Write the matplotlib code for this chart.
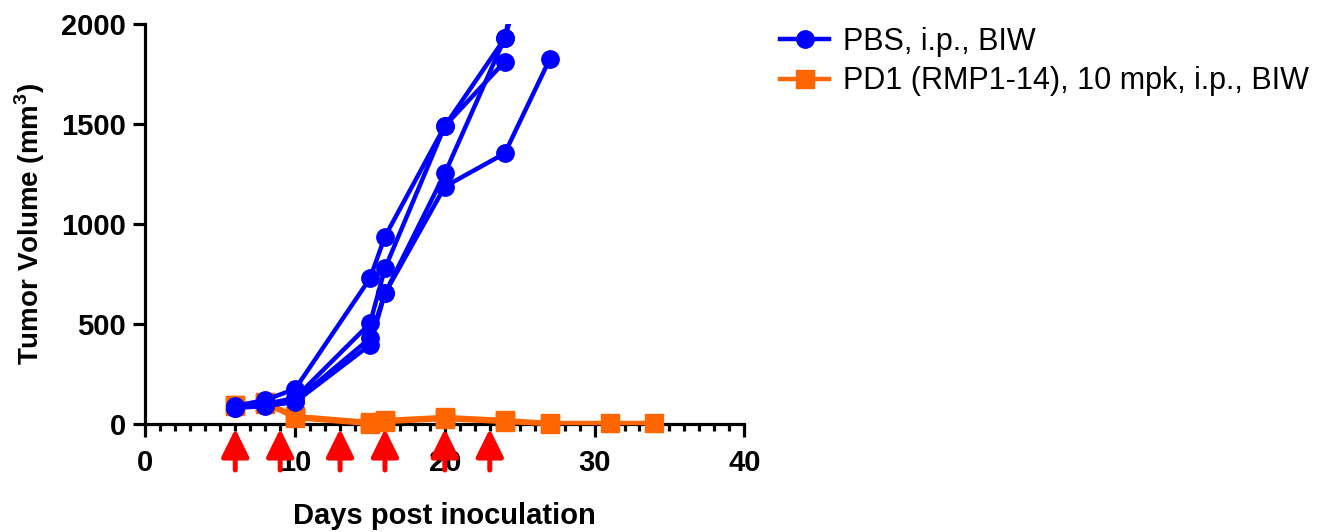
import numpy as np
import matplotlib
matplotlib.use("Agg")
import matplotlib.pyplot as plt
from matplotlib.ticker import MultipleLocator

plt.rcParams['font.family'] = ['Liberation Sans', 'DejaVu Sans']
plt.rcParams['mathtext.fontset'] = 'custom'
plt.rcParams['mathtext.rm'] = 'Liberation Sans'
plt.rcParams['mathtext.bf'] = 'Liberation Sans:bold'

# PBS group, one list per mouse (day, volume)
pbs_days = [
    [6, 8, 10, 15, 16, 20, 24],
    [6, 8, 10, 15, 16, 20, 24, 27],
    [6, 8, 10, 15, 16, 20, 24, 27],
    [6, 8, 10, 15, 16, 20, 24, 27],
]
pbs_vol = [
    [90, 120, 175, 728, 937, 1490, 1812],
    [80, 100, 130, 503, 778, 1490, 1928, 3000],
    [85, 95, 115, 428, 653, 1253, 1928, 2700],
    [80, 90, 110, 395, 653, 1187, 1353, 1823],
]

# anti-PD1 group
pd1_days = [
    [6, 8, 10, 15, 16, 20, 24, 27, 31, 34],
    [6, 8, 10, 15, 16, 20, 24, 27],
    [6, 8, 10, 15, 16, 20, 24],
]
pd1_vol = [
    [95, 110, 40, 10, 20, 35, 20, 5, 5, 5],
    [90, 105, 30, 0, 10, 25, 10, 0],
    [95, 100, 35, 5, 15, 30, 15],
]

dose_days = [6, 9, 13, 16, 20, 23]

blue = '#0000FF'
orange = '#FF6600'

fig = plt.figure(figsize=(13.22, 5.32), dpi=100)
ax = fig.add_axes([0.110, 0.203, 0.453, 0.752])

for d, v in zip(pd1_days, pd1_vol):
    ax.plot(d, v, color=orange, marker='s', ms=12.5, lw=3.2, clip_on=False, zorder=3)
for d, v in zip(pbs_days, pbs_vol):
    ax.plot(d, v, color=blue, marker='o', ms=12.5, lw=3.2, zorder=4)

# legend handles
h1, = ax.plot([], [], color=blue, marker='o', ms=12.5, lw=3.2, label='PBS, i.p., BIW')
h2, = ax.plot([], [], color=orange, marker='s', ms=12.5, lw=3.2,
              label='PD1 (RMP1-14), 10 mpk, i.p., BIW')
fig.legend(handles=[h1, h2], loc='upper left', bbox_to_anchor=(0.581, 0.972),
           frameon=False, fontsize=22, handlelength=1.6, handletextpad=0.45,
           labelspacing=0.3, borderaxespad=0)

ax.set_xlim(0, 40)
ax.set_ylim(0, 2000)
ax.xaxis.set_major_locator(MultipleLocator(10))
ax.xaxis.set_minor_locator(MultipleLocator(1))
ax.yaxis.set_major_locator(MultipleLocator(500))

for s in ['top', 'right']:
    ax.spines[s].set_visible(False)
for s in ['left', 'bottom']:
    ax.spines[s].set_linewidth(2.3)

ax.tick_params(axis='both', which='major', width=2.3, length=9, labelsize=21)
ax.tick_params(axis='x', which='major', pad=9)
ax.tick_params(axis='y', which='major', pad=5)
ax.tick_params(axis='x', which='minor', width=2.3, length=5)
for lab in ax.get_xticklabels() + ax.get_yticklabels():
    lab.set_fontweight('bold')

ax.set_xlabel('Days post inoculation', fontsize=21, fontweight='bold', labelpad=18)
ax.set_ylabel(r'Tumor Volume (mm$^\mathbf{3}$)', fontsize=20, fontweight='bold', labelpad=10)

# dosing arrows
for d in dose_days:
    ax.annotate('', xy=(d, -0.012), xycoords=('data', 'axes fraction'),
                xytext=(d, -0.115), textcoords=('data', 'axes fraction'),
                arrowprops=dict(arrowstyle='-|>,head_length=0.85,head_width=0.42',
                                mutation_scale=20, lw=3.6, color='#FF0000',
                                shrinkA=0, shrinkB=0),
                annotation_clip=False, zorder=6)

fig.savefig('out.png', dpi=100)
